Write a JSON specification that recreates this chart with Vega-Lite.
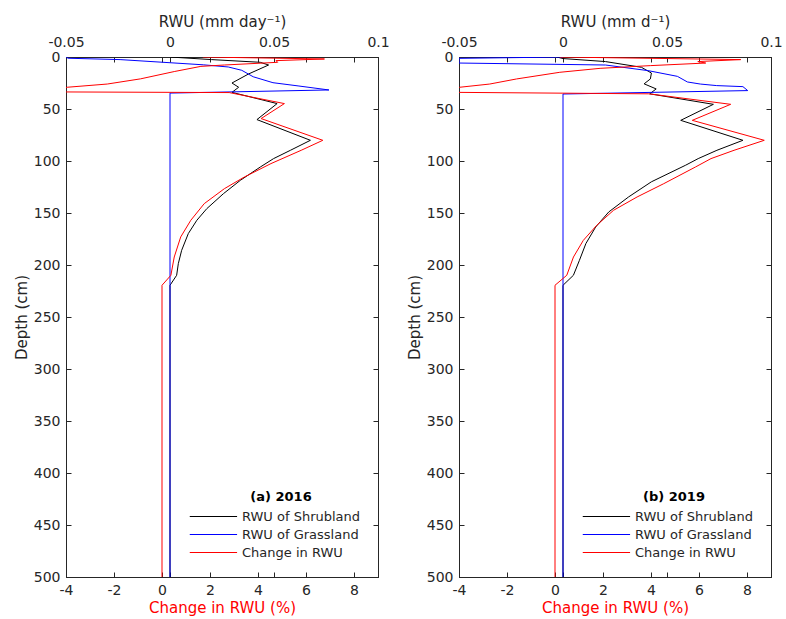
{
  "$schema": "https://vega.github.io/schema/vega-lite/v6.json",
  "background": "white",
  "padding": {"left": 13, "top": 13, "right": 5, "bottom": 0},
  "config": {
    "font": "DejaVu Sans",
    "view": {"stroke": "#262626", "strokeWidth": 1},
    "axis": {"grid": false, "domainColor": "#262626", "tickColor": "#262626", "labelColor": "#262626", "titleColor": "#262626", "labelFontSize": 14, "titleFontSize": 15, "titleFontWeight": "normal", "labelFont": "DejaVu Sans", "titleFont": "DejaVu Sans", "tickSize": -5, "labelPadding": 11, "labelFlush": false, "labelOverlap": false},
    "legend": {"orient": "bottom-right", "offset": 17, "titleFontSize": 13, "titleFontWeight": "bold", "titleColor": "#000000", "labelFontSize": 13, "labelColor": "#262626", "symbolType": "M-3,0H5", "symbolSize": 140, "symbolStrokeWidth": 1, "titleAnchor": "middle", "titleAlign": "center", "rowPadding": 4, "labelOffset": 28, "titlePadding": 6},
    "line": {"strokeWidth": 1}
  },
  "datasets": {
    "a_rwu": [
      {"depth": 0, "v": 0.0, "s": "RWU of Shrubland"},
      {"depth": 2.5, "v": 0.020, "s": "RWU of Shrubland"},
      {"depth": 5.1, "v": 0.0434, "s": "RWU of Shrubland"},
      {"depth": 7.7, "v": 0.0474, "s": "RWU of Shrubland"},
      {"depth": 16.3, "v": 0.0378, "s": "RWU of Shrubland"},
      {"depth": 25, "v": 0.0298, "s": "RWU of Shrubland"},
      {"depth": 29.1, "v": 0.033, "s": "RWU of Shrubland"},
      {"depth": 34, "v": 0.0298, "s": "RWU of Shrubland"},
      {"depth": 44.8, "v": 0.0515, "s": "RWU of Shrubland"},
      {"depth": 60.2, "v": 0.0418, "s": "RWU of Shrubland"},
      {"depth": 80.1, "v": 0.0675, "s": "RWU of Shrubland"},
      {"depth": 89.7, "v": 0.0579, "s": "RWU of Shrubland"},
      {"depth": 97.7, "v": 0.0498, "s": "RWU of Shrubland"},
      {"depth": 105.8, "v": 0.0434, "s": "RWU of Shrubland"},
      {"depth": 118.6, "v": 0.0338, "s": "RWU of Shrubland"},
      {"depth": 131.4, "v": 0.0257, "s": "RWU of Shrubland"},
      {"depth": 145.8, "v": 0.0177, "s": "RWU of Shrubland"},
      {"depth": 157, "v": 0.0129, "s": "RWU of Shrubland"},
      {"depth": 169.8, "v": 0.0088, "s": "RWU of Shrubland"},
      {"depth": 185.9, "v": 0.0056, "s": "RWU of Shrubland"},
      {"depth": 198.7, "v": 0.004, "s": "RWU of Shrubland"},
      {"depth": 209.9, "v": 0.0032, "s": "RWU of Shrubland"},
      {"depth": 219.5, "v": 0.0, "s": "RWU of Shrubland"},
      {"depth": 500, "v": 0.0, "s": "RWU of Shrubland"},
      {"depth": 0, "v": -0.05, "s": "RWU of Grassland"},
      {"depth": 1.2, "v": -0.049, "s": "RWU of Grassland"},
      {"depth": 2.5, "v": -0.024, "s": "RWU of Grassland"},
      {"depth": 7.5, "v": 0.016, "s": "RWU of Grassland"},
      {"depth": 9.6, "v": 0.028, "s": "RWU of Grassland"},
      {"depth": 12.8, "v": 0.0345, "s": "RWU of Grassland"},
      {"depth": 19, "v": 0.040, "s": "RWU of Grassland"},
      {"depth": 24.7, "v": 0.0495, "s": "RWU of Grassland"},
      {"depth": 27.9, "v": 0.062, "s": "RWU of Grassland"},
      {"depth": 31.7, "v": 0.0764, "s": "RWU of Grassland"},
      {"depth": 34.7, "v": 0.0, "s": "RWU of Grassland"},
      {"depth": 500, "v": 0.0, "s": "RWU of Grassland"}
    ],
    "a_chg": [
      {"depth": 0, "v": 1.7, "s": "Change in RWU"},
      {"depth": 1.9, "v": 6.77, "s": "Change in RWU"},
      {"depth": 3.5, "v": 4.75, "s": "Change in RWU"},
      {"depth": 5.1, "v": 4.82, "s": "Change in RWU"},
      {"depth": 7.7, "v": 2.6, "s": "Change in RWU"},
      {"depth": 9.0, "v": 1.62, "s": "Change in RWU"},
      {"depth": 14, "v": 0.51, "s": "Change in RWU"},
      {"depth": 21, "v": -0.89, "s": "Change in RWU"},
      {"depth": 26, "v": -2.28, "s": "Change in RWU"},
      {"depth": 29.1, "v": -3.95, "s": "Change in RWU"},
      {"depth": 30.5, "v": -4.1, "s": "Change in RWU"},
      {"depth": 33.6, "v": -4.1, "s": "Change in RWU"},
      {"depth": 34.2, "v": 2.8, "s": "Change in RWU"},
      {"depth": 44.8, "v": 5.1, "s": "Change in RWU"},
      {"depth": 59.2, "v": 4.13, "s": "Change in RWU"},
      {"depth": 80.1, "v": 6.7, "s": "Change in RWU"},
      {"depth": 89.7, "v": 5.8, "s": "Change in RWU"},
      {"depth": 102.5, "v": 4.54, "s": "Change in RWU"},
      {"depth": 115.4, "v": 3.43, "s": "Change in RWU"},
      {"depth": 126.6, "v": 2.6, "s": "Change in RWU"},
      {"depth": 141, "v": 1.76, "s": "Change in RWU"},
      {"depth": 157, "v": 1.2, "s": "Change in RWU"},
      {"depth": 173, "v": 0.78, "s": "Change in RWU"},
      {"depth": 192.3, "v": 0.51, "s": "Change in RWU"},
      {"depth": 209.9, "v": 0.37, "s": "Change in RWU"},
      {"depth": 219.5, "v": 0.0, "s": "Change in RWU"},
      {"depth": 500, "v": 0.0, "s": "Change in RWU"}
    ],
    "b_rwu": [
      {"depth": 0, "v": -0.003, "s": "RWU of Shrubland"},
      {"depth": 1.5, "v": 0.0, "s": "RWU of Shrubland"},
      {"depth": 4.4, "v": 0.0204, "s": "RWU of Shrubland"},
      {"depth": 9.9, "v": 0.0377, "s": "RWU of Shrubland"},
      {"depth": 15.4, "v": 0.0425, "s": "RWU of Shrubland"},
      {"depth": 21.1, "v": 0.042, "s": "RWU of Shrubland"},
      {"depth": 25.8, "v": 0.039, "s": "RWU of Shrubland"},
      {"depth": 30.7, "v": 0.0448, "s": "RWU of Shrubland"},
      {"depth": 35.4, "v": 0.0417, "s": "RWU of Shrubland"},
      {"depth": 45.5, "v": 0.0723, "s": "RWU of Shrubland"},
      {"depth": 60.9, "v": 0.0566, "s": "RWU of Shrubland"},
      {"depth": 80.1, "v": 0.0865, "s": "RWU of Shrubland"},
      {"depth": 89.7, "v": 0.074, "s": "RWU of Shrubland"},
      {"depth": 97.7, "v": 0.065, "s": "RWU of Shrubland"},
      {"depth": 104, "v": 0.059, "s": "RWU of Shrubland"},
      {"depth": 120, "v": 0.0425, "s": "RWU of Shrubland"},
      {"depth": 134.6, "v": 0.0315, "s": "RWU of Shrubland"},
      {"depth": 149, "v": 0.022, "s": "RWU of Shrubland"},
      {"depth": 163.5, "v": 0.0157, "s": "RWU of Shrubland"},
      {"depth": 179.4, "v": 0.011, "s": "RWU of Shrubland"},
      {"depth": 195.5, "v": 0.0079, "s": "RWU of Shrubland"},
      {"depth": 209.9, "v": 0.005, "s": "RWU of Shrubland"},
      {"depth": 219.5, "v": 0.0, "s": "RWU of Shrubland"},
      {"depth": 500, "v": 0.0, "s": "RWU of Shrubland"},
      {"depth": 0, "v": 0.0, "s": "RWU of Grassland"},
      {"depth": 1.3, "v": -0.05, "s": "RWU of Grassland"},
      {"depth": 5.8, "v": -0.05, "s": "RWU of Grassland"},
      {"depth": 7.7, "v": 0.0204, "s": "RWU of Grassland"},
      {"depth": 13.1, "v": 0.0409, "s": "RWU of Grassland"},
      {"depth": 18.6, "v": 0.055, "s": "RWU of Grassland"},
      {"depth": 24, "v": 0.0598, "s": "RWU of Grassland"},
      {"depth": 26, "v": 0.066, "s": "RWU of Grassland"},
      {"depth": 27.5, "v": 0.0739, "s": "RWU of Grassland"},
      {"depth": 28.5, "v": 0.0865, "s": "RWU of Grassland"},
      {"depth": 32.3, "v": 0.0888, "s": "RWU of Grassland"},
      {"depth": 35.6, "v": 0.0, "s": "RWU of Grassland"},
      {"depth": 500, "v": 0.0, "s": "RWU of Grassland"}
    ],
    "b_chg": [
      {"depth": 0, "v": 0.2, "s": "Change in RWU"},
      {"depth": 2.5, "v": 7.74, "s": "Change in RWU"},
      {"depth": 4.4, "v": 5.95, "s": "Change in RWU"},
      {"depth": 5.8, "v": 6.28, "s": "Change in RWU"},
      {"depth": 8.3, "v": 3.97, "s": "Change in RWU"},
      {"depth": 10.9, "v": 1.88, "s": "Change in RWU"},
      {"depth": 14.7, "v": 0.2, "s": "Change in RWU"},
      {"depth": 21.1, "v": -1.6, "s": "Change in RWU"},
      {"depth": 26, "v": -2.72, "s": "Change in RWU"},
      {"depth": 29.1, "v": -3.97, "s": "Change in RWU"},
      {"depth": 30.5, "v": -4.1, "s": "Change in RWU"},
      {"depth": 34.0, "v": -4.1, "s": "Change in RWU"},
      {"depth": 35.4, "v": 3.91, "s": "Change in RWU"},
      {"depth": 45.5, "v": 7.32, "s": "Change in RWU"},
      {"depth": 60.9, "v": 5.72, "s": "Change in RWU"},
      {"depth": 80.1, "v": 8.72, "s": "Change in RWU"},
      {"depth": 89.7, "v": 7.46, "s": "Change in RWU"},
      {"depth": 97.7, "v": 6.5, "s": "Change in RWU"},
      {"depth": 105.8, "v": 5.85, "s": "Change in RWU"},
      {"depth": 121.8, "v": 4.53, "s": "Change in RWU"},
      {"depth": 134.6, "v": 3.42, "s": "Change in RWU"},
      {"depth": 147.4, "v": 2.44, "s": "Change in RWU"},
      {"depth": 161.8, "v": 1.74, "s": "Change in RWU"},
      {"depth": 176.3, "v": 1.18, "s": "Change in RWU"},
      {"depth": 192.3, "v": 0.77, "s": "Change in RWU"},
      {"depth": 209.9, "v": 0.49, "s": "Change in RWU"},
      {"depth": 219.5, "v": 0.0, "s": "Change in RWU"},
      {"depth": 500, "v": 0.0, "s": "Change in RWU"}
    ]
  },
  "spacing": 16,
  "resolve": {"scale": {"color": "independent", "x": "independent", "y": "independent"}, "legend": {"color": "independent"}},
  "hconcat": [
    {
      "width": 312, "height": 520,
      "layer": [
        {
          "layer": [
            {
              "data": {"name": "a_rwu"},
              "mark": {"type": "line", "clip": true},
              "encoding": {
                "x": {"field": "v", "type": "quantitative", "scale": {"domain": [-0.05, 0.1], "nice": false, "zero": false}, "axis": {"orient": "top", "values": [-0.05, 0, 0.05, 0.1], "labelExpr": "toString(datum.value)", "title": "RWU (mm day⁻¹)", "titlePadding": 6, "labelPadding": 13}},
                "y": {"field": "depth", "type": "quantitative", "scale": {"domain": [0, 500], "reverse": true, "nice": false, "zero": false}, "axis": {"orient": "left", "values": [0, 50, 100, 150, 200, 250, 300, 350, 400, 450, 500], "title": "Depth (cm)", "titlePadding": 4}},
                "color": {"field": "s", "type": "nominal", "scale": {"domain": ["RWU of Shrubland", "RWU of Grassland", "Change in RWU"], "range": ["#000000", "#0000ff", "#ff0000"]}, "legend": {"title": "(a) 2016", "encode": {"symbols": {"update": {"stroke": {"signal": "datum.value == 'RWU of Grassland' ? '#0000ff' : datum.value == 'Change in RWU' ? '#ff0000' : '#000000'"}, "strokeWidth": {"value": 1}, "fill": {"value": "transparent"}}}}}},
                "order": {"field": "depth", "type": "quantitative"}
              }
            },
            {
              "data": {"name": "a_rwu"},
              "mark": {"type": "point", "opacity": 0},
              "encoding": {
                "x": {"field": "v", "type": "quantitative", "axis": {"orient": "bottom", "values": [-0.05, 0, 0.05, 0.1], "labels": false, "title": null, "domain": false}},
                "y": {"field": "depth", "type": "quantitative", "axis": null}
              }
            }
          ],
          "resolve": {"axis": {"x": "independent", "y": "independent"}}
        },
        {
          "layer": [
            {
              "data": {"name": "a_chg"},
              "mark": {"type": "line", "clip": true},
              "encoding": {
                "x": {"field": "v", "type": "quantitative", "scale": {"domain": [-4, 9], "nice": false, "zero": false}, "axis": {"orient": "bottom", "values": [-4, -2, 0, 2, 4, 6, 8], "labelExpr": "toString(datum.value)", "title": "Change in RWU (%)", "titleColor": "#ff0000", "titlePadding": 3}},
                "y": {"field": "depth", "type": "quantitative", "axis": {"orient": "right", "values": [0, 50, 100, 150, 200, 250, 300, 350, 400, 450, 500], "labels": false, "title": null}},
                "color": {"field": "s", "type": "nominal", "scale": {"domain": ["RWU of Shrubland", "RWU of Grassland", "Change in RWU"], "range": ["#000000", "#0000ff", "#ff0000"]}, "legend": {"title": "(a) 2016", "encode": {"symbols": {"update": {"stroke": {"signal": "datum.value == 'RWU of Grassland' ? '#0000ff' : datum.value == 'Change in RWU' ? '#ff0000' : '#000000'"}, "strokeWidth": {"value": 1}, "fill": {"value": "transparent"}}}}}},
                "order": {"field": "depth", "type": "quantitative"}
              }
            },
            {
              "data": {"name": "a_chg"},
              "mark": {"type": "point", "opacity": 0},
              "encoding": {
                "x": {"field": "v", "type": "quantitative", "axis": {"orient": "top", "values": [-4, -2, 0, 2, 4, 6, 8], "labels": false, "title": null, "domain": false}},
                "y": {"field": "depth", "type": "quantitative", "axis": null}
              }
            }
          ],
          "resolve": {"axis": {"x": "independent", "y": "independent"}}
        }
      ],
      "resolve": {"scale": {"x": "independent"}, "axis": {"x": "independent", "y": "independent"}}
    },
    {
      "width": 312, "height": 520,
      "layer": [
        {
          "layer": [
            {
              "data": {"name": "b_rwu"},
              "mark": {"type": "line", "clip": true},
              "encoding": {
                "x": {"field": "v", "type": "quantitative", "scale": {"domain": [-0.05, 0.1], "nice": false, "zero": false}, "axis": {"orient": "top", "values": [-0.05, 0, 0.05, 0.1], "labelExpr": "toString(datum.value)", "title": "RWU (mm d⁻¹)", "titlePadding": 6, "labelPadding": 13}},
                "y": {"field": "depth", "type": "quantitative", "scale": {"domain": [0, 500], "reverse": true, "nice": false, "zero": false}, "axis": {"orient": "left", "values": [0, 50, 100, 150, 200, 250, 300, 350, 400, 450, 500], "title": "Depth (cm)", "titlePadding": 4}},
                "color": {"field": "s", "type": "nominal", "scale": {"domain": ["RWU of Shrubland", "RWU of Grassland", "Change in RWU"], "range": ["#000000", "#0000ff", "#ff0000"]}, "legend": {"title": "(b) 2019", "encode": {"symbols": {"update": {"stroke": {"signal": "datum.value == 'RWU of Grassland' ? '#0000ff' : datum.value == 'Change in RWU' ? '#ff0000' : '#000000'"}, "strokeWidth": {"value": 1}, "fill": {"value": "transparent"}}}}}},
                "order": {"field": "depth", "type": "quantitative"}
              }
            },
            {
              "data": {"name": "b_rwu"},
              "mark": {"type": "point", "opacity": 0},
              "encoding": {
                "x": {"field": "v", "type": "quantitative", "axis": {"orient": "bottom", "values": [-0.05, 0, 0.05, 0.1], "labels": false, "title": null, "domain": false}},
                "y": {"field": "depth", "type": "quantitative", "axis": null}
              }
            }
          ],
          "resolve": {"axis": {"x": "independent", "y": "independent"}}
        },
        {
          "layer": [
            {
              "data": {"name": "b_chg"},
              "mark": {"type": "line", "clip": true},
              "encoding": {
                "x": {"field": "v", "type": "quantitative", "scale": {"domain": [-4, 9], "nice": false, "zero": false}, "axis": {"orient": "bottom", "values": [-4, -2, 0, 2, 4, 6, 8], "labelExpr": "toString(datum.value)", "title": "Change in RWU (%)", "titleColor": "#ff0000", "titlePadding": 3}},
                "y": {"field": "depth", "type": "quantitative", "axis": {"orient": "right", "values": [0, 50, 100, 150, 200, 250, 300, 350, 400, 450, 500], "labels": false, "title": null}},
                "color": {"field": "s", "type": "nominal", "scale": {"domain": ["RWU of Shrubland", "RWU of Grassland", "Change in RWU"], "range": ["#000000", "#0000ff", "#ff0000"]}, "legend": {"title": "(b) 2019", "encode": {"symbols": {"update": {"stroke": {"signal": "datum.value == 'RWU of Grassland' ? '#0000ff' : datum.value == 'Change in RWU' ? '#ff0000' : '#000000'"}, "strokeWidth": {"value": 1}, "fill": {"value": "transparent"}}}}}},
                "order": {"field": "depth", "type": "quantitative"}
              }
            },
            {
              "data": {"name": "b_chg"},
              "mark": {"type": "point", "opacity": 0},
              "encoding": {
                "x": {"field": "v", "type": "quantitative", "axis": {"orient": "top", "values": [-4, -2, 0, 2, 4, 6, 8], "labels": false, "title": null, "domain": false}},
                "y": {"field": "depth", "type": "quantitative", "axis": null}
              }
            }
          ],
          "resolve": {"axis": {"x": "independent", "y": "independent"}}
        }
      ],
      "resolve": {"scale": {"x": "independent"}, "axis": {"x": "independent", "y": "independent"}}
    }
  ]
}
